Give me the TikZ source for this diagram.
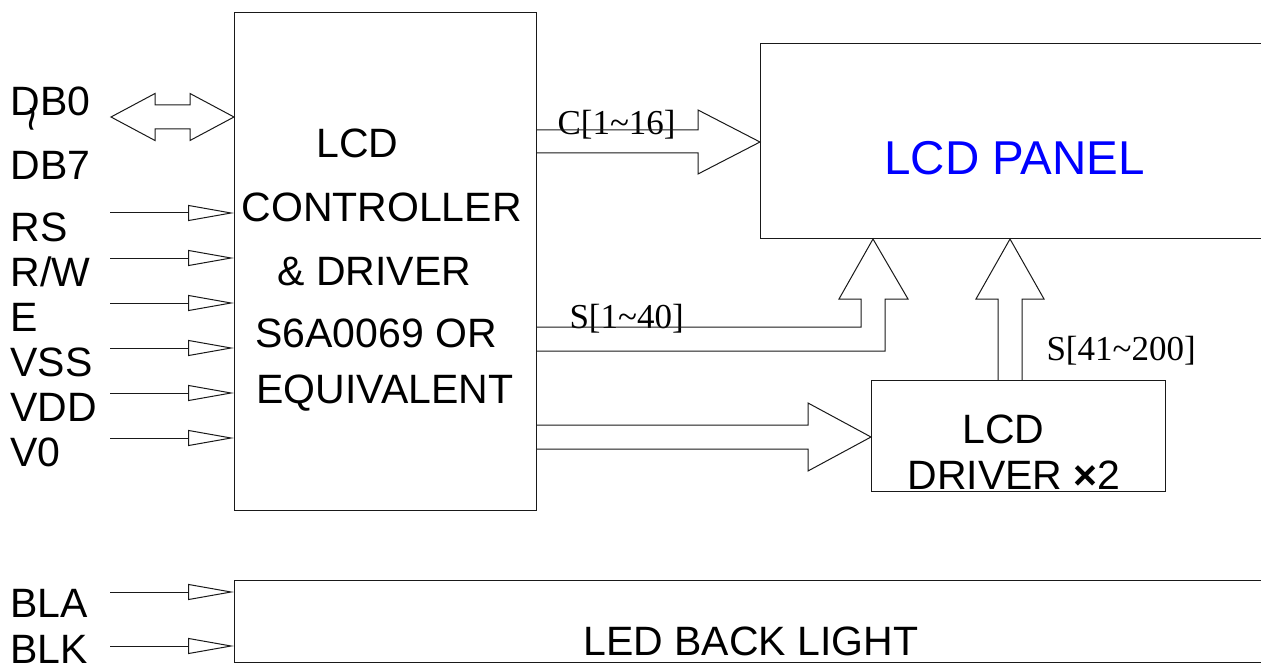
\documentclass[tikz,border=0pt]{standalone}
\usepackage{fontspec}
\setmainfont{Liberation Sans}
\newfontfamily\serifx{Liberation Serif}
\usetikzlibrary{arrows.meta,calc}
\definecolor{panelblue}{RGB}{0,0,255}
\begin{document}
\begin{tikzpicture}[x=1pt,y=-1pt,line width=1pt,
  box/.style={draw=black!90,inner sep=0pt,anchor=north west},
  lab/.style={anchor=base west,inner sep=0pt,font=\fontsize{41}{41}\selectfont},
  slab/.style={anchor=base west,inner sep=0pt,font=\serifx\fontsize{35}{35}\selectfont},
  blk/.style={draw=black!90,line join=miter},
  inarr/.style={draw=black!90,-{Triangle[open,length=46pt,width=16pt,line width=1pt]}}]
\useasboundingbox (0,0) rectangle (1261,671);
% boxes
\node[box,minimum width=302pt,minimum height=498pt] (ctrl) at (234,12) {};
\node[box,minimum width=501pt,minimum height=195pt] (panel) at (760,43) {};
\node[box,minimum width=294pt,minimum height=111pt] (drv) at (871,380) {};
\node[box,minimum width=1027pt,minimum height=82pt] (bl) at (234,580) {};
% box texts
\node[lab] (t1) at (316,158) {LCD};
\node[lab] (t2) at (241,222) {CONTROLLER};
\node[lab] (t3) at (277,285) {\& DRIVER};
\node[lab] (t4) at (255,347) {S6A0069 OR};
\node[lab] (t5) at (256,403) {EQUIVALENT};
\node[lab,font=\fontsize{47.5}{47.5}\selectfont,text=panelblue] (tp) at (884,175) {LCD PANEL};
\node[lab] (td1) at (962,443) {LCD};
\node[lab] (td2) at (907,489) {DRIVER {\bfseries ×}2};
\node[lab] (tb) at (583,655) {LED BACK LIGHT};
% left labels
\node[lab] (lDB0) at (10,116) {DB0};
\node[rotate=-90,inner sep=0pt,font=\fontsize{44}{44}\selectfont] (ltil) at (26,119) {\textasciitilde};
\node[lab] (lDB7) at (10,180) {DB7};
\node[lab] (lRS) at (10,242) {RS};
\node[lab] (lRW) at (10,287) {R/W};
\node[lab] (lE) at (10,331) {E};
\node[lab] (lVSS) at (10,376) {VSS};
\node[lab] (lVDD) at (10,421) {VDD};
\node[lab] (lV0) at (10,466) {V0};
\node[lab] (lBLA) at (10,617) {BLA};
\node[lab] (lBLK) at (10,663) {BLK};
% bus labels
\node[slab] (sC) at (557,135) {C[1\textasciitilde16]};
\node[slab] (sS1) at (569,328) {S[1\textasciitilde40]};
\node[slab] (sS2) at (1046,360) {S[41\textasciitilde200]};
% input arrows
\foreach \n/\yy in {RS/213,RW/258,E/303,VSS/348,VDD/393,V0/438,BLA/592,BLK/646}{
  \coordinate (i\n) at (110,\yy);
}
\foreach \n in {RS,RW,E,VSS,VDD,V0}{
  \draw[inarr] (i\n) -- (i\n -| ctrl.west);
}
\foreach \n in {BLA,BLK}{
  \draw[inarr] (i\n) -- (i\n -| bl.west);
}
% DB bidirectional arrow
\coordinate (dbL) at (111,117);
\draw[blk] (dbL) -- (155,93.5) -- (155,105) -- (190,105) -- (190,93.5)
  -- (ctrl.west |- dbL) -- (190,140.5) -- (190,129) -- (155,129) -- (155,140.5) -- cycle;
% C[1~16] arrow
\draw[blk] (ctrl.east |- 0,130) -- (698,130) -- (698,110) -- (panel.west |- 0,142)
  -- (698,174) -- (698,153) -- (ctrl.east |- 0,153);
% S[1~40] arrow
\draw[blk] (ctrl.east |- 0,327) -- (861,327) -- (861,299) -- (839,299)
  -- (panel.south -| 873,0) -- (908,299) -- (885,299) -- (885,351) -- (ctrl.east |- 0,351);
% S[41~200] arrow
\draw[blk] (drv.north -| 998,0) -- (998,299) -- (976,299) -- (panel.south -| 1010,0)
  -- (1044,299) -- (1022,299) -- (drv.north -| 1022,0);
% driver arrow
\draw[blk] (ctrl.east |- 0,425) -- (808,425) -- (808,403) -- (drv.west |- 0,437)
  -- (808,471) -- (808,449) -- (ctrl.east |- 0,449);
\end{tikzpicture}
\end{document}
